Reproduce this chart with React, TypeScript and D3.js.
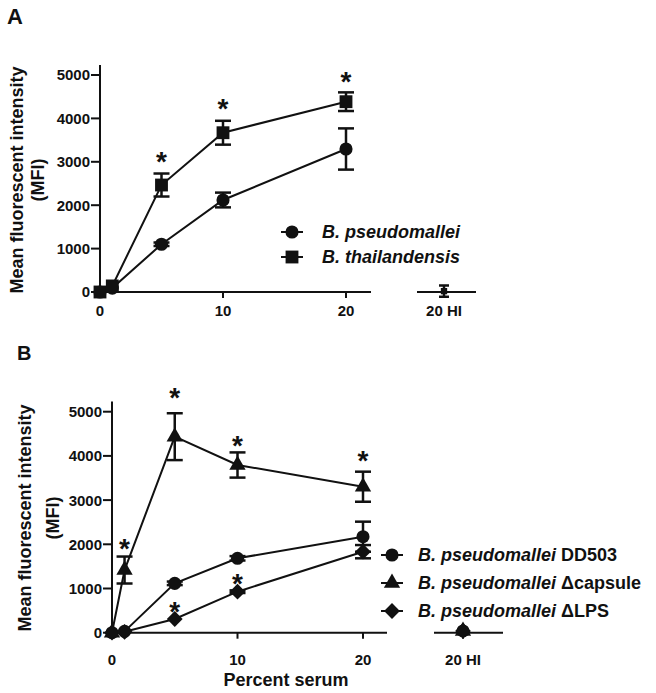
import React from "react";
import * as d3 from "d3";

// ---- Panel A data ----
const xA = [0, 1, 5, 10, 20];
const bpMeanA = [0, 90, 1100, 2120, 3295];
const bpErrA = [0, 0, 40, 170, 475];
const btMeanA = [0, 140, 2465, 3670, 4385];
const btErrA = [0, 0, 265, 275, 215];
const hiA = { bp: 0, bt: 20, btErr: 130 };
const starsAX = [5, 10, 20];
const starsAY = [3157, 4378, 5000];
const legendA = ["B. thailandensis", "B. pseudomallei"];

// ---- Panel B data ----
const xB = [0, 1, 5, 10, 20];
const ddMeanB = [0, 30, 1117, 1683, 2172];
const ddErrB = [0, 0, 40, 50, 340];
const capMeanB = [0, 1418, 4435, 3794, 3303];
const capErrB = [0, 305, 530, 285, 340];
const lpsMeanB = [0, 20, 310, 928, 1833];
const lpsErrB = [0, 0, 0, 30, 150];
const hiB = [40, 40, 40];
const starsBX = [1, 5, 10, 20, 5, 10];
const starsBY = [2059, 5473, 4387, 4037, 626, 1263];
const legendBSuffix = ["DD503", "\u0394capsule", "\u0394LPS"];

const yTicks = [0, 1000, 2000, 3000, 4000, 5000];
const xTicks = [0, 10, 20];

const FONT = "'Liberation Sans', Arial, sans-serif";

type Shape = "circle" | "square" | "triangle" | "diamond";

function Marker({ shape, x, y }: { shape: Shape; x: number; y: number }) {
  let path = "";
  let rot = 0;
  if (shape === "circle") path = d3.symbol(d3.symbolCircle, 135)() || "";
  if (shape === "square") path = d3.symbol(d3.symbolSquare, 165)() || "";
  if (shape === "triangle") path = d3.symbol(d3.symbolTriangle, 115)() || "";
  if (shape === "diamond") {
    path = d3.symbol(d3.symbolSquare, 125)() || "";
    rot = 45;
  }
  return <path d={path} transform={`translate(${x},${y}) rotate(${rot})`} fill="#111" />;
}

function ErrBar({ x, y, yLo, yHi, w = 16 }: { x: number; y: any; yLo: number; yHi: number; w?: number }) {
  return (
    <g stroke="#111" strokeWidth={2.5}>
      <line x1={x} x2={x} y1={y(yLo)} y2={y(yHi)} />
      <line x1={x - w / 2} x2={x + w / 2} y1={y(yHi)} y2={y(yHi)} />
      <line x1={x - w / 2} x2={x + w / 2} y1={y(yLo)} y2={y(yLo)} />
    </g>
  );
}

function Series({ xs, means, errs, shape, x, y }: any) {
  const line = d3
    .line<number>()
    .x((_, i) => x(xs[i]))
    .y((d) => y(d));
  return (
    <g>
      <path d={line(means) || ""} fill="none" stroke="#111" strokeWidth={2} />
      {means.map((m: number, i: number) =>
        errs[i] > 0 ? <ErrBar key={"e" + i} x={x(xs[i])} y={y} yLo={m - errs[i]} yHi={m + errs[i]} /> : null
      )}
      {means.map((m: number, i: number) => (
        <Marker key={"m" + i} shape={shape} x={x(xs[i])} y={y(m)} />
      ))}
    </g>
  );
}

function Star({ x, y }: { x: number; y: number }) {
  return (
    <text x={x} y={y + 16} textAnchor="middle" fontSize={28} fontWeight="bold" fontFamily={FONT} fill="#111">
      *
    </text>
  );
}

function Axes({ x, y, axisX, xEnd, hiRange, hiTick, labelY, labelDy }: any) {
  const y0 = y(0);
  return (
    <g fontFamily={FONT} fontWeight="bold" fontSize={15} fill="#111">
      <line x1={axisX} x2={axisX} y1={y0} y2={y(5230)} stroke="#111" strokeWidth={2} />
      {yTicks.map((t) => (
        <g key={t}>
          <line x1={axisX - 9} x2={axisX} y1={y(t)} y2={y(t)} stroke="#111" strokeWidth={2} />
          <text x={axisX - 10} y={y(t)} dy="0.36em" textAnchor="end">
            {t}
          </text>
        </g>
      ))}
      <line x1={axisX} x2={xEnd} y1={y0} y2={y0} stroke="#111" strokeWidth={2} />
      {xTicks.map((t) => (
        <g key={t}>
          <line x1={x(t)} x2={x(t)} y1={y0} y2={y0 + 6} stroke="#111" strokeWidth={2} />
          <text x={x(t)} y={y0 + labelDy} textAnchor="middle">
            {t}
          </text>
        </g>
      ))}
      <line x1={hiRange[0]} x2={hiRange[1]} y1={y0} y2={y0} stroke="#111" strokeWidth={2} />
      <line x1={hiTick} x2={hiTick} y1={y0} y2={y0 + 6} stroke="#111" strokeWidth={2} />
      <text x={hiTick} y={y0 + labelDy} textAnchor="middle">
        20 HI
      </text>
    </g>
  );
}

function YLabel({ cx1, cx2, cy }: { cx1: number; cx2: number; cy: number }) {
  return (
    <g fontFamily={FONT} fontWeight="bold" fontSize={18} fill="#111">
      <text transform={`translate(${cx1},${cy}) rotate(-90)`} textAnchor="middle" dy="0.35em">
        Mean fluorescent intensity
      </text>
      <text transform={`translate(${cx2},${cy}) rotate(-90)`} textAnchor="middle" dy="0.35em">
        (MFI)
      </text>
    </g>
  );
}

function LegendRow({ shape, cx, cy, tx, italic, suffix }: any) {
  return (
    <g>
      <line x1={cx - 11} x2={cx + 11} y1={cy} y2={cy} stroke="#111" strokeWidth={2} />
      <Marker shape={shape} x={cx} y={cy} />
      <text x={tx} y={cy} dy="0.36em" fontFamily={FONT} fontWeight="bold" fontSize={18} fill="#111">
        <tspan fontStyle="italic">{italic}</tspan>
        {suffix ? <tspan>{" " + suffix}</tspan> : null}
      </text>
    </g>
  );
}

export default function App() {
  // Panel A scales
  const xAs = d3.scaleLinear().domain([0, 20]).range([100, 346]);
  const yAs = d3.scaleLinear().domain([0, 5000]).range([292, 75]);
  // Panel B scales
  const xBs = d3.scaleLinear().domain([0, 20]).range([112, 363]);
  const yBs = d3.scaleLinear().domain([0, 5000]).range([632.7, 411.7]);

  const hiAx = 444;
  const hiBx = 463;

  return (
    <svg width={656} height={693} style={{ position: "absolute", left: 0, top: 0, background: "#fff" }}>
      <rect width={656} height={693} fill="#fff" />
      {/* Panel A */}
      <text x={7} y={24} fontFamily={FONT} fontWeight="bold" fontSize={22} fill="#111">
        A
      </text>
      <YLabel cx1={17} cx2={38} cy={180} />
      <Axes x={xAs} y={yAs} axisX={100} xEnd={371} hiRange={[417, 476]} hiTick={hiAx} labelY={0} labelDy={24} />
      <Series xs={xA} means={bpMeanA} errs={bpErrA} shape="circle" x={xAs} y={yAs} />
      <Series xs={xA} means={btMeanA} errs={btErrA} shape="square" x={xAs} y={yAs} />
      <ErrBar x={hiAx} y={yAs} yLo={hiA.bt - hiA.btErr} yHi={hiA.bt + hiA.btErr} w={10} />
      <path d={d3.symbol(d3.symbolSquare, 40)() || ""} transform={`translate(${hiAx},${yAs(hiA.bt)})`} fill="#111" />
      {starsAX.map((sx, i) => (
        <Star key={i} x={xAs(sx)} y={yAs(starsAY[i])} />
      ))}
      <LegendRow shape="circle" cx={292} cy={232} tx={322} italic={legendA[1]} />
      <LegendRow shape="square" cx={292} cy={257} tx={322} italic={legendA[0]} />

      {/* Panel B */}
      <text x={17} y={360} fontFamily={FONT} fontWeight="bold" fontSize={20} fill="#111">
        B
      </text>
      <YLabel cx1={25} cx2={53} cy={518} />
      <Axes x={xBs} y={yBs} axisX={112} xEnd={387} hiRange={[434, 503]} hiTick={hiBx} labelY={0} labelDy={32} />
      <Series xs={xB} means={ddMeanB} errs={ddErrB} shape="circle" x={xBs} y={yBs} />
      <Series xs={xB} means={lpsMeanB} errs={lpsErrB} shape="diamond" x={xBs} y={yBs} />
      <Series xs={xB} means={capMeanB} errs={capErrB} shape="triangle" x={xBs} y={yBs} />
      <Marker shape="circle" x={hiBx} y={yBs(hiB[0])} />
      <Marker shape="triangle" x={hiBx} y={yBs(hiB[1])} />
      <Marker shape="diamond" x={hiBx} y={yBs(hiB[2])} />
      {starsBX.map((sx, i) => (
        <Star key={i} x={xBs(sx)} y={yBs(starsBY[i])} />
      ))}
      <LegendRow shape="circle" cx={392} cy={555} tx={418} italic="B. pseudomallei" suffix={legendBSuffix[0]} />
      <LegendRow shape="triangle" cx={392} cy={583} tx={418} italic="B. pseudomallei" suffix={legendBSuffix[1]} />
      <LegendRow shape="diamond" cx={392} cy={611} tx={418} italic="B. pseudomallei" suffix={legendBSuffix[2]} />
      <text x={286} y={686} textAnchor="middle" fontFamily={FONT} fontWeight="bold" fontSize={18} fill="#111">
        Percent serum
      </text>
    </svg>
  );
}
